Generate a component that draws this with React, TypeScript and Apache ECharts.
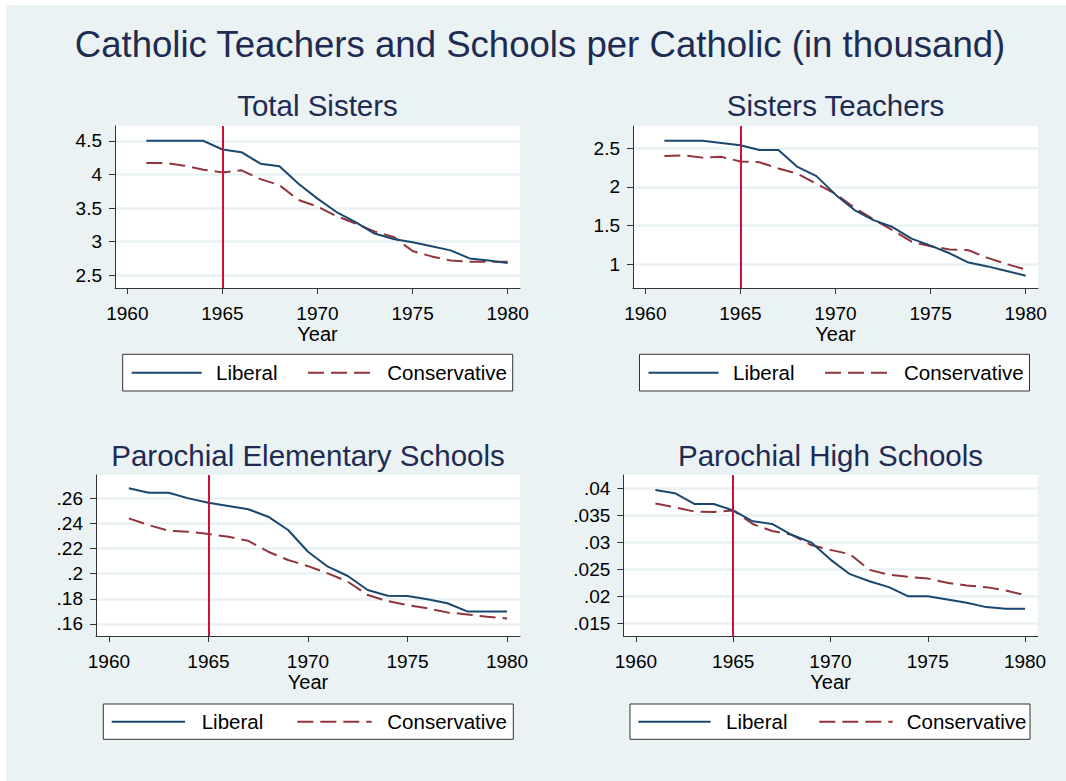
import { useEffect, useRef } from "react";
import * as echarts from "echarts";

// ---------------- data ----------------
const YEARS = [1961, 1962, 1963, 1964, 1965, 1966, 1967, 1968, 1969, 1970, 1971, 1972, 1973, 1974, 1975, 1976, 1977, 1978, 1979, 1980];
const X_TICKS = [1960, 1965, 1970, 1975, 1980];
const TREATMENT_YEAR = 1965;
const SERIES_NAMES = ["Liberal", "Conservative"];

const MAIN_TITLE = "Catholic Teachers and Schools per Catholic (in thousand)";
const PANEL_TITLES = ["Total Sisters", "Sisters Teachers", "Parochial Elementary Schools", "Parochial High Schools"];
const X_AXIS_NAME = "Year";

const TOTAL_SISTERS_LIB = [4.5, 4.5, 4.5, 4.5, 4.37, 4.33, 4.16, 4.12, 3.86, 3.64, 3.44, 3.29, 3.12, 3.04, 2.99, 2.93, 2.87, 2.75, 2.72, 2.68];
const TOTAL_SISTERS_CON = [4.17, 4.17, 4.13, 4.07, 4.03, 4.06, 3.93, 3.84, 3.62, 3.52, 3.38, 3.27, 3.15, 3.07, 2.86, 2.78, 2.72, 2.7, 2.7, 2.7];

const SISTERS_TEACHERS_LIB = [2.6, 2.6, 2.6, 2.57, 2.54, 2.48, 2.48, 2.26, 2.14, 1.9, 1.7, 1.57, 1.48, 1.33, 1.24, 1.14, 1.02, 0.97, 0.91, 0.85];
const SISTERS_TEACHERS_CON = [2.4, 2.41, 2.38, 2.39, 2.33, 2.32, 2.24, 2.17, 2.04, 1.91, 1.73, 1.58, 1.44, 1.29, 1.23, 1.19, 1.18, 1.08, 1.0, 0.93];

const ELEMENTARY_LIB = [0.268, 0.2645, 0.2645, 0.26, 0.2565, 0.254, 0.2513, 0.2454, 0.2348, 0.2175, 0.2056, 0.1982, 0.187, 0.1825, 0.1822, 0.1797, 0.1765, 0.17, 0.17, 0.17];
const ELEMENTARY_CON = [0.2441, 0.2387, 0.2342, 0.2334, 0.2316, 0.2294, 0.2262, 0.2175, 0.2109, 0.206, 0.2003, 0.1936, 0.183, 0.1782, 0.175, 0.1724, 0.1692, 0.1676, 0.1657, 0.1644];

const HIGH_LIB = [0.0397, 0.0391, 0.0371, 0.0371, 0.0359, 0.0339, 0.0334, 0.0314, 0.03, 0.0268, 0.0241, 0.0228, 0.0217, 0.02, 0.02, 0.0194, 0.0188, 0.018, 0.0177, 0.0177];
const HIGH_CON = [0.0372, 0.0365, 0.0357, 0.0356, 0.0359, 0.0334, 0.0321, 0.0314, 0.0295, 0.0286, 0.0278, 0.0249, 0.024, 0.0236, 0.0233, 0.0225, 0.022, 0.0217, 0.0211, 0.0202];

const Y_TICKS_TOTAL = [2.5, 3, 3.5, 4, 4.5];
const Y_TICKS_TEACHERS = [1, 1.5, 2, 2.5];
const Y_TICKS_ELEMENTARY = [0.16, 0.18, 0.2, 0.22, 0.24, 0.26];
const Y_TICKS_HIGH = [0.015, 0.02, 0.025, 0.03, 0.035, 0.04];

// ---------------- styling / layout ----------------
const FONT = "'Liberation Sans', Arial, Helvetica, sans-serif";
const BG = "#EAF2F3";
const LIB_COLOR = "#1A476F";
const CON_COLOR = "#90353B";
const VLINE_COLOR = "#D0103A";
const TITLE_COLOR = "#1e2b52";
const AXIS_COLOR = "#333333";
const DASH = [16, 7];

const PANELS = [
  { lib: TOTAL_SISTERS_LIB, con: TOTAL_SISTERS_CON, ticks: Y_TICKS_TOTAL, yMin: 2.31, yMax: 4.72,
    grid: { left: 115, top: 126, width: 405, height: 162 }, titleY: 105,
    legend: { x: 122.7, y: 354.3, w: 390, h: 36.7, libLine: [131.7, 201.7], libText: 216, conLine: [308, 370], conText: 387.3 } },
  { lib: SISTERS_TEACHERS_LIB, con: SISTERS_TEACHERS_CON, ticks: Y_TICKS_TEACHERS, yMin: 0.69, yMax: 2.79,
    grid: { left: 633, top: 126, width: 405, height: 162 }, titleY: 105,
    legend: { x: 639.5, y: 354.3, w: 390, h: 36.7, libLine: [648.5, 718.5], libText: 733, conLine: [825, 887], conText: 904 } },
  { lib: ELEMENTARY_LIB, con: ELEMENTARY_CON, ticks: Y_TICKS_ELEMENTARY, yMin: 0.1504, yMax: 0.2786,
    grid: { left: 96, top: 475, width: 424, height: 161 }, titleY: 455,
    legend: { x: 103.3, y: 704, w: 410, h: 35.3, libLine: [111.7, 185], libText: 201.7, conLine: [297.3, 371.7], conText: 387.3 } },
  { lib: HIGH_LIB, con: HIGH_CON, ticks: Y_TICKS_HIGH, yMin: 0.01265, yMax: 0.04247,
    grid: { left: 623.3, top: 475, width: 414.4, height: 161 }, titleY: 455,
    legend: { x: 630, y: 704, w: 400, h: 35.3, libLine: [638.3, 710.7], libText: 726, conLine: [819.3, 892.7], conText: 906.7 } },
];

const fmtTick = (v: number) => {
  const s = String(Math.round(v * 10000) / 10000);
  return s.replace(/^0\./, ".");
};

function buildOption() {
  const grids: any[] = [];
  const xAxes: any[] = [];
  const yAxes: any[] = [];
  const series: any[] = [];
  const titles: any[] = [
    {
      text: MAIN_TITLE, left: 540, top: 44, textAlign: "center", textVerticalAlign: "middle", padding: 0,
      textStyle: { fontSize: 36.6, fontWeight: "normal", color: TITLE_COLOR, fontFamily: FONT },
    },
  ];
  const graphics: any[] = [
    { type: "rect", shape: { x: 0, y: 0, width: 1066, height: 5 }, style: { fill: "#ffffff" }, silent: true },
    { type: "rect", shape: { x: 0, y: 0, width: 6, height: 781 }, style: { fill: "#ffffff" }, silent: true },
  ];

  PANELS.forEach((p, i) => {
    const g = p.grid;
    grids.push({ ...g, show: true, backgroundColor: "#ffffff", borderWidth: 0, containLabel: false });
    titles.push({
      text: PANEL_TITLES[i], left: g.left + g.width / 2, top: p.titleY, textAlign: "center", textVerticalAlign: "middle", padding: 0,
      textStyle: { fontSize: 29.5, fontWeight: "normal", color: TITLE_COLOR, fontFamily: FONT },
    });
    xAxes.push({
      type: "value", gridIndex: i, min: 1959.35, max: 1980.65,
      name: X_AXIS_NAME, nameLocation: "middle", nameGap: 35,
      nameTextStyle: { fontSize: 20, color: "#000", fontFamily: FONT },
      axisLine: { show: true, onZero: false, lineStyle: { color: AXIS_COLOR, width: 1 } },
      axisTick: { show: true, length: 6, customValues: X_TICKS, lineStyle: { color: AXIS_COLOR } },
      axisLabel: { customValues: X_TICKS, margin: 16, fontSize: 19, color: "#000", fontFamily: FONT, formatter: (v: number) => String(v) },
      splitLine: { show: false },
    });
    yAxes.push({
      type: "value", gridIndex: i, min: p.yMin, max: p.yMax,
      axisLine: { show: true, onZero: false, lineStyle: { color: AXIS_COLOR, width: 1 } },
      axisTick: { show: true, length: 6, customValues: p.ticks, lineStyle: { color: AXIS_COLOR } },
      axisLabel: { customValues: p.ticks, margin: 13, fontSize: 19, color: "#000", fontFamily: FONT, formatter: (v: number) => fmtTick(v) },
      splitLine: { show: true, lineStyle: { color: BG, width: 2.5 } },
    });
    series.push({
      type: "line", name: SERIES_NAMES[0], xAxisIndex: i, yAxisIndex: i,
      data: YEARS.map((y, k) => [y, p.lib[k]]),
      symbol: "none", showSymbol: false,
      lineStyle: { color: LIB_COLOR, width: 2 }, itemStyle: { color: LIB_COLOR },
      z: 3,
      markLine: {
        silent: true, symbol: ["none", "none"], label: { show: false },
        lineStyle: { color: VLINE_COLOR, width: 2, type: "solid" },
        emphasis: { disabled: true },
        data: [{ xAxis: TREATMENT_YEAR }],
      },
    });
    series.push({
      type: "line", name: SERIES_NAMES[1], xAxisIndex: i, yAxisIndex: i,
      data: YEARS.map((y, k) => [y, p.con[k]]),
      symbol: "none", showSymbol: false,
      lineStyle: { color: CON_COLOR, width: 2, type: DASH }, itemStyle: { color: CON_COLOR },
      z: 2,
    });

    const L = p.legend;
    const cy = L.y + L.h / 2;
    graphics.push(
      { type: "rect", shape: { x: L.x, y: L.y, width: L.w, height: L.h }, style: { fill: "#ffffff", stroke: AXIS_COLOR, lineWidth: 1 }, silent: true },
      { type: "line", shape: { x1: L.libLine[0], y1: cy, x2: L.libLine[1], y2: cy }, style: { stroke: LIB_COLOR, lineWidth: 2 }, silent: true },
      { type: "text", x: L.libText, y: cy, style: { text: SERIES_NAMES[0], font: `20.5px ${FONT}`, fill: "#000", textVerticalAlign: "middle", verticalAlign: "middle" }, silent: true },
      { type: "line", shape: { x1: L.conLine[0], y1: cy, x2: L.conLine[1], y2: cy }, style: { stroke: CON_COLOR, lineWidth: 2, lineDash: DASH }, silent: true },
      { type: "text", x: L.conText, y: cy, style: { text: SERIES_NAMES[1], font: `20.5px ${FONT}`, fill: "#000", textVerticalAlign: "middle", verticalAlign: "middle" }, silent: true },
    );
  });

  return {
    animation: false,
    backgroundColor: BG,
    title: titles,
    grid: grids,
    xAxis: xAxes,
    yAxis: yAxes,
    series,
    graphic: graphics,
  };
}

export default function App() {
  const ref = useRef<HTMLDivElement>(null);
  useEffect(() => {
    if (!ref.current) return;
    const chart = echarts.init(ref.current, undefined, { renderer: "svg" });
    chart.setOption(buildOption() as any);
    return () => chart.dispose();
  }, []);
  return (
    <div
      ref={ref}
      style={{ position: "absolute", left: 0, top: 0, width: 1066, height: 781, background: "#fff" }}
    />
  );
}
